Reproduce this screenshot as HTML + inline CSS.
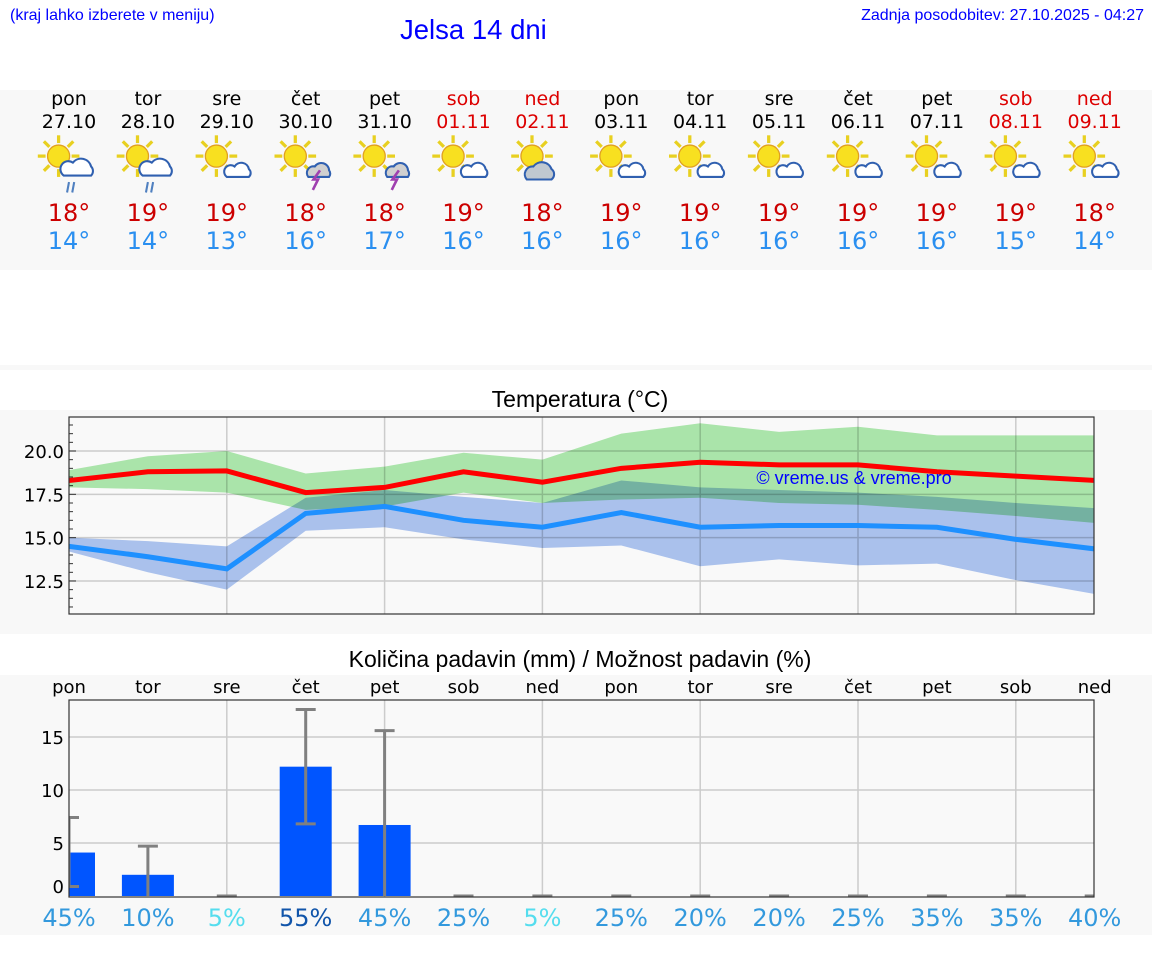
<!DOCTYPE html>
<html><head><meta charset="utf-8"><style>
body{margin:0;width:1152px;height:975px;background:#fff;position:relative;overflow:hidden;font-family:"DejaVu Sans","Liberation Sans",sans-serif}
.a{position:absolute}
.band{position:absolute;left:0;width:1152px;background:#f8f8f8}
.day{position:absolute;width:80px;text-align:center;font-size:19px;line-height:23px}
</style></head><body>
<div class="a" style="left:10px;top:7px;font:16px 'Liberation Sans',sans-serif;color:#00f">(kraj lahko izberete v meniju)</div>
<div class="a" style="left:400px;top:14px;font:27.5px 'Liberation Sans',sans-serif;color:#00f">Jelsa 14 dni</div>
<div class="a" style="right:8px;top:7px;font:16px 'Liberation Sans',sans-serif;color:#00f">Zadnja posodobitev: 27.10.2025 - 04:27</div>
<div class="band" style="top:90px;height:180px"></div>
<div class="band" style="top:365px;height:5px"></div>
<div class="band" style="top:410px;height:224px"></div>
<div class="band" style="top:675px;height:260px"></div>
<div id="days"></div>
<div class="a" style="left:0;width:1160px;text-align:center;top:386px;font:23px 'Liberation Sans',sans-serif">Temperatura (°C)</div>
<div class="a" style="left:0;width:1160px;text-align:center;top:646px;font:23px 'Liberation Sans',sans-serif">Količina padavin (mm) / Možnost padavin (%)</div>
<svg class="a" style="left:0;top:0" width="1152" height="975" id="svg"></svg>
<script>
const dayNames=["pon","tor","sre","čet","pet","sob","ned","pon","tor","sre","čet","pet","sob","ned"];
const dates=["27.10","28.10","29.10","30.10","31.10","01.11","02.11","03.11","04.11","05.11","06.11","07.11","08.11","09.11"];
const icons=["rain","rain","sun","storm","storm","sun","cloud","sun","sun","sun","sun","sun","sun","sun"];
const maxT=[18,19,19,18,18,19,18,19,19,19,19,19,19,18];
const minT=[14,14,13,16,17,16,16,16,16,16,16,16,15,14];
const tMax=[18.3,18.8,18.85,17.6,17.9,18.8,18.2,19.0,19.35,19.2,19.2,18.8,18.55,18.3];
const tMaxHi=[18.9,19.7,20.0,18.7,19.1,19.9,19.5,21.0,21.6,21.1,21.4,20.9,20.9,20.9];
const tMaxLo=[17.9,17.8,17.6,16.6,16.8,17.6,17.0,17.2,17.3,17.0,16.9,16.6,16.25,15.85];
const tMin=[14.5,13.9,13.2,16.4,16.8,16.0,15.6,16.45,15.6,15.7,15.7,15.6,14.9,14.35];
const tMinHi=[15.0,14.8,14.5,17.3,17.75,17.35,17.0,18.3,17.9,17.75,17.6,17.35,17.0,16.7];
const tMinLo=[14.2,13.0,12.0,15.4,15.6,14.9,14.4,14.55,13.35,13.75,13.4,13.5,12.55,11.75];
const tTicks=[12.5,15.0,17.5,20.0];
const rain=[4.1,2.0,0,12.2,6.7,0,0,0,0,0,0,0,0,0];
const rainLo=[0.9,0,0,6.8,0,0,0,0,0,0,0,0,0,0];
const rainHi=[7.4,4.7,0,17.6,15.6,0,0,0,0,0,0,0,0,0];
const prob=[45,10,5,55,45,25,5,25,20,20,25,35,35,40];
const rTicks=[0,5,10,15];
const NS="http://www.w3.org/2000/svg";
const svg=document.getElementById('svg');
function el(t,a,p){const e=document.createElementNS(NS,t);for(const k in a)e.setAttribute(k,a[k]);(p||svg).appendChild(e);return e;}
const X=i=>69+i*78.9;
const TY=v=>451-(v-20)*17.33;
const RY=v=>896-v*10.6;
const dd=document.getElementById('days');
for(let i=0;i<14;i++){
 const d=document.createElement('div');d.className='day';
 
 
 d.style.left=(X(i)-40)+'px';d.style.top='88px';
 const wk=(i==5||i==6||i==12||i==13);
 d.innerHTML=`<div style="color:${wk?'#d00':'#000'}">${dayNames[i]}</div><div style="color:${wk?'#d00':'#000'}">${dates[i]}</div><div style="height:65px"></div><div style="font-size:24px;line-height:28px;color:#c00">${maxT[i]}°</div><div style="font-size:24px;line-height:28px;color:#2a8ff0">${minT[i]}°</div>`;
 dd.appendChild(d);
 const g=el('g',{transform:`translate(${X(i)},160) scale(1.3)`});
 
 
 const sx=-8,sy=-3;
 for(let k=0;k<8;k++){const an=k*Math.PI/4;el('line',{x1:sx+Math.cos(an)*10,y1:sy+Math.sin(an)*10,x2:sx+Math.cos(an)*16,y2:sy+Math.sin(an)*16,stroke:'#e8d020','stroke-width':2.5},g);}
 el('circle',{cx:sx,cy:sy,r:8.5,fill:'#f8e020',stroke:'#e0a020'},g);
 const t=icons[i];
 if(t=='sun'){el('path',{d:'M0 13 a5 5 0 0 1 6-8 a6 6 0 0 1 11 2 a4 4 0 0 1 0 6z',fill:'#fff',stroke:'#3060b0','stroke-width':1.6},g);}
 else if(t=='cloud'){el('path',{d:'M-12 15 a6 6 0 0 1 5-10 a8 8 0 0 1 14 2 a5 5 0 0 1 0 8z',fill:'#c0c8d0',stroke:'#3060b0','stroke-width':1.6},g);}
 else if(t=='rain'){el('path',{d:'M-4 12 a6 6 0 0 1 7-10 a8 8 0 0 1 14 3 a5 5 0 0 1 0 7z',fill:'#fff',stroke:'#3060b0','stroke-width':1.6},g);el('path',{d:'M0 17 l-1.5 8 M4 17 l-1.5 8',stroke:'#5080c0','stroke-width':1.6},g);}
 else {el('path',{d:'M2 13 a5 5 0 0 1 5-8 a6 6 0 0 1 11 3 a4 4 0 0 1 0 5z',fill:'#d0d0d0',stroke:'#3060b0','stroke-width':1.6},g);el('path',{d:'M11 8 l-5 7 h3.5 l-4 8',stroke:'#a040b0','stroke-width':2,fill:'none'},g);}
}
el('rect',{x:69,y:417,width:1025,height:197,fill:'#f9f9f9'});
for(let i=2;i<14;i+=2)el('line',{x1:X(i),x2:X(i),y1:417,y2:614,stroke:'#ccc','stroke-width':1.5});
tTicks.forEach(v=>{el('line',{x1:69,x2:1094,y1:TY(v),y2:TY(v),stroke:'#ccc','stroke-width':1.5});const t=el('text',{x:64,y:TY(v)+7,'text-anchor':'end','font-size':18,'font-family':'DejaVu Sans,sans-serif'});t.textContent=v.toFixed(1);});
for(let v=11;v<=21.5;v+=0.5)el('line',{x1:69,x2:v%2.5==0?76:73,y1:TY(v),y2:TY(v),stroke:'#333'});
function band(hi,lo,fill,name){let d='M'+hi.map((v,i)=>X(i)+' '+TY(v)).join(' L');d+=' L'+lo.map((v,i)=>X(i)+' '+TY(v)).reverse().join(' L')+'Z';const p=el('path',{d,fill,'clip-path':'url(#tc)',style:'mix-blend-mode:multiply'});}
const defs=el('defs',{});const cp=el('clipPath',{id:'tc'},defs);el('rect',{x:69,y:417,width:1025,height:197},cp);
band(tMaxHi,tMaxLo,'#aeeaae','max-temp-range');
band(tMinHi,tMinLo,'#aec6f2','min-temp-range');
function line(a,c,name){const p=el('polyline',{points:a.map((v,i)=>X(i)+','+TY(v)).join(' '),fill:'none',stroke:c,'stroke-width':5,'clip-path':'url(#tc)'});}
line(tMax,'#ff0000','max-temp-line');line(tMin,'#1e90ff','min-temp-line');
const wm=el('text',{x:854,y:484,'text-anchor':'middle','font-size':18,fill:'#00f','font-family':'Liberation Sans,sans-serif'});wm.textContent='© vreme.us & vreme.pro';
el('rect',{x:69,y:417,width:1025,height:197,fill:'none',stroke:'#333','stroke-width':1.2});
el('rect',{x:69,y:700,width:1025,height:197,fill:'#f9f9f9'});
for(let i=2;i<14;i+=2)el('line',{x1:X(i),x2:X(i),y1:700,y2:897,stroke:'#ccc','stroke-width':1.5});
rTicks.forEach(v=>{if(v>0)el('line',{x1:69,x2:1094,y1:RY(v),y2:RY(v),stroke:'#ccc','stroke-width':1.5});const t=el('text',{x:64,y:RY(v)+(v==0?-3:7),'text-anchor':'end','font-size':18,'font-family':'DejaVu Sans,sans-serif'});t.textContent=v;});
const cp2=el('clipPath',{id:'pc'},defs);el('rect',{x:69,y:700,width:1025,height:197},cp2);
for(let i=0;i<14;i++){
 const t=el('text',{x:X(i),y:693,'text-anchor':'middle','font-size':18,'font-family':'DejaVu Sans,sans-serif'});t.textContent=dayNames[i];
 if(rain[i]>0){const r=el('rect',{x:X(i)-26,y:RY(rain[i]),width:52,height:896-RY(rain[i]),fill:'#0055ff','clip-path':'url(#pc)'});}
 const g=el('g',{stroke:'#808080','stroke-width':3,'clip-path':'url(#pc)'});
 
 
 if(rainHi[i]>0){el('line',{x1:X(i),x2:X(i),y1:RY(rainLo[i]),y2:RY(rainHi[i])},g);el('line',{x1:X(i)-10,x2:X(i)+10,y1:RY(rainHi[i]),y2:RY(rainHi[i])},g);if(rainLo[i]>0)el('line',{x1:X(i)-10,x2:X(i)+10,y1:RY(rainLo[i]),y2:RY(rainLo[i])},g);}
 else el('line',{x1:X(i)-10,x2:X(i)+10,y1:896,y2:896},g);
 const pc=prob[i];const col=pc>=50?'#1155aa':pc<=5?'#55ddee':'#3399dd';
 const p=el('text',{x:X(i),y:926,'text-anchor':'middle','font-size':24,fill:col,'font-family':'DejaVu Sans,sans-serif'});p.textContent=pc+'%';
}
el('rect',{x:69,y:700,width:1025,height:197,fill:'none',stroke:'#333','stroke-width':1.2});
</script>
</body></html>
